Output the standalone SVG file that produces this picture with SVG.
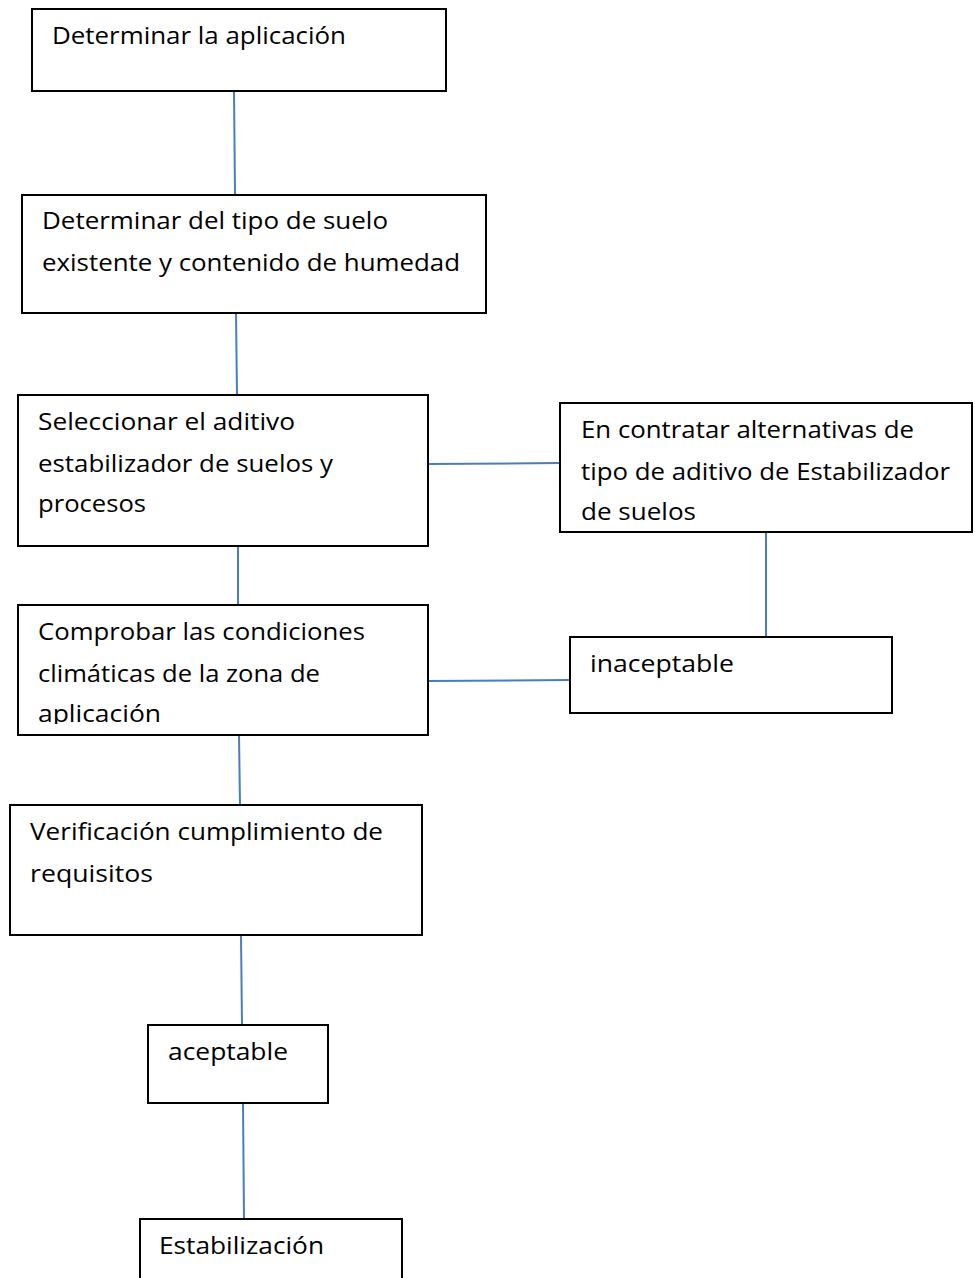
<svg xmlns="http://www.w3.org/2000/svg" width="975" height="1278" viewBox="0 0 975 1278">
<style>
.box{fill:#fff;stroke:#000;stroke-width:2}
.t{font-family:"Open Sans","Noto Sans","Liberation Sans",sans-serif;font-size:24px;fill:#000}
.c{stroke:#4a7ebb;stroke-width:2;fill:none}
</style>
<defs>
<clipPath id="clip4"><rect x="18" y="605" width="410" height="119"/></clipPath>
</defs>
<g id="connectors">
<line class="c" x1="234" y1="91" x2="235" y2="195"/>
<line class="c" x1="236" y1="313" x2="237" y2="395"/>
<line class="c" x1="238" y1="546" x2="238" y2="605"/>
<line class="c" x1="239" y1="735" x2="240" y2="805"/>
<line class="c" x1="241" y1="935" x2="242" y2="1025"/>
<line class="c" x1="243" y1="1103" x2="244" y2="1219"/>
<line class="c" x1="428" y1="464" x2="560" y2="463"/>
<line class="c" x1="766" y1="532" x2="766" y2="637"/>
<line class="c" x1="428" y1="681" x2="570" y2="680"/>
</g>
<g id="n1">
<rect class="box" x="32" y="9" width="414" height="82"/>
<text class="t" x="52" y="44" textLength="294" lengthAdjust="spacingAndGlyphs">Determinar la aplicación</text>
</g>
<g id="n2">
<rect class="box" x="22" y="195" width="464" height="118"/>
<text class="t" x="42" y="229" textLength="346" lengthAdjust="spacingAndGlyphs">Determinar del tipo de suelo</text>
<text class="t" x="42" y="271" textLength="418" lengthAdjust="spacingAndGlyphs">existente y contenido de humedad</text>
</g>
<g id="n3">
<rect class="box" x="18" y="395" width="410" height="151"/>
<text class="t" x="38" y="430" textLength="257" lengthAdjust="spacingAndGlyphs">Seleccionar el aditivo</text>
<text class="t" x="38" y="472" textLength="295" lengthAdjust="spacingAndGlyphs">estabilizador de suelos y</text>
<text class="t" x="38" y="512" textLength="108" lengthAdjust="spacingAndGlyphs">procesos</text>
</g>
<g id="n_alt">
<rect class="box" x="560" y="403" width="412" height="129"/>
<text class="t" x="581" y="438" textLength="333" lengthAdjust="spacingAndGlyphs">En contratar alternativas de</text>
<text class="t" x="581" y="480" textLength="369" lengthAdjust="spacingAndGlyphs">tipo de aditivo de Estabilizador</text>
<text class="t" x="581" y="520" textLength="115" lengthAdjust="spacingAndGlyphs">de suelos</text>
</g>
<g id="n4">
<rect class="box" x="18" y="605" width="410" height="130"/>
<g clip-path="url(#clip4)">
<text class="t" x="38" y="640" textLength="327" lengthAdjust="spacingAndGlyphs">Comprobar las condiciones</text>
<text class="t" x="38" y="682" textLength="282" lengthAdjust="spacingAndGlyphs">climáticas de la zona de</text>
<text class="t" x="38" y="722" textLength="123" lengthAdjust="spacingAndGlyphs">aplicación</text>
</g>
</g>
<g id="n_inac">
<rect class="box" x="570" y="637" width="322" height="76"/>
<text class="t" x="590" y="672" textLength="144" lengthAdjust="spacingAndGlyphs">inaceptable</text>
</g>
<g id="n5">
<rect class="box" x="10" y="805" width="412" height="130"/>
<text class="t" x="30" y="840" textLength="353" lengthAdjust="spacingAndGlyphs">Verificación cumplimiento de</text>
<text class="t" x="30" y="882" textLength="123" lengthAdjust="spacingAndGlyphs">requisitos</text>
</g>
<g id="n_acep">
<rect class="box" x="148" y="1025" width="180" height="78"/>
<text class="t" x="168" y="1060" textLength="120" lengthAdjust="spacingAndGlyphs">aceptable</text>
</g>
<g id="n6">
<rect class="box" x="140" y="1219" width="262" height="80"/>
<text class="t" x="159" y="1254" textLength="165" lengthAdjust="spacingAndGlyphs">Estabilización</text>
</g>
</svg>
